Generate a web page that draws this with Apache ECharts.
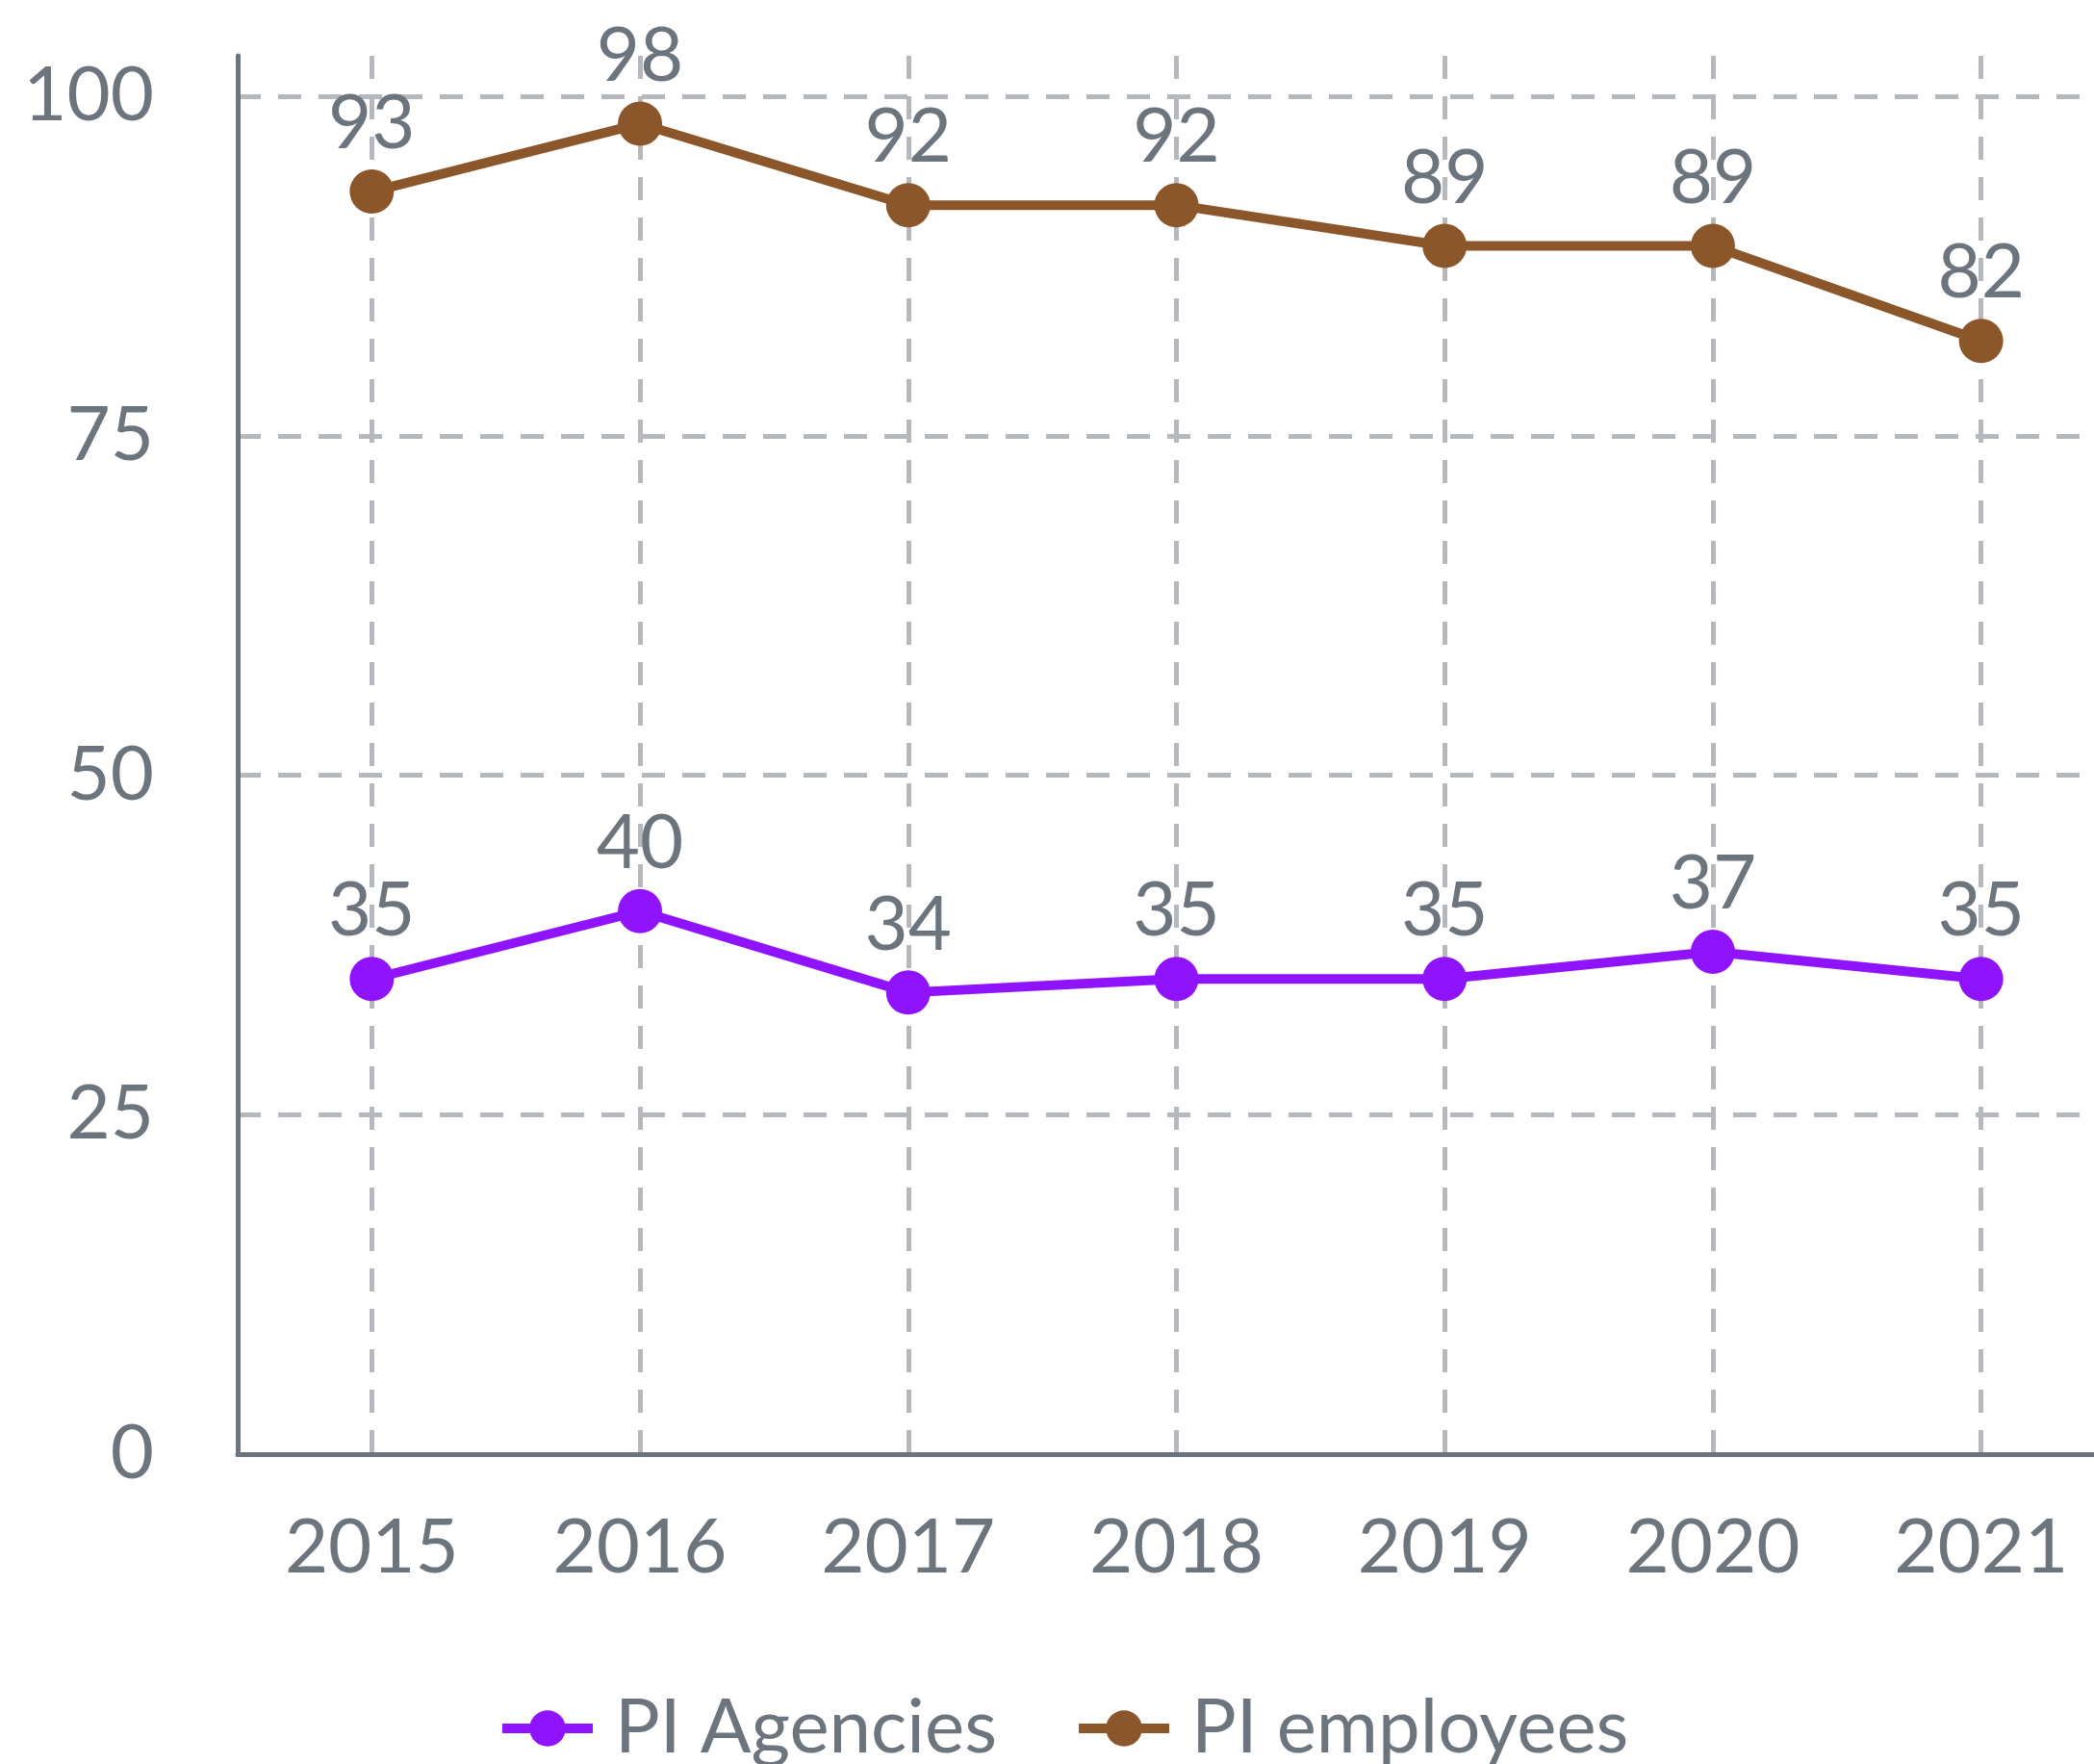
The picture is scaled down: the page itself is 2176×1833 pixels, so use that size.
<!DOCTYPE html>
<html><head><meta charset="utf-8">
<script src="https://cdn.jsdelivr.net/npm/echarts@6/dist/echarts.min.js"></script>
<style>html,body{margin:0;padding:0;background:#fff}#c{width:2176px;height:1833px}</style>
</head><body><div id="c"></div>
<script>
const years = ['2015','2016','2017','2018','2019','2020','2021'];
const agencies = [35, 40, 34, 35, 35, 37, 35];
const employees = [93, 98, 92, 92, 89, 89, 82];
const yTicks = [0, 25, 50, 75, 100];

const gray = '#6c757d';
const gridGray = '#b5b9bd';
const font = 'Lato';
const chart = echarts.init(document.getElementById('c'));
const lbl = {show:true, position:'top', distance:8, fontSize:78, color:gray, fontFamily:font};
chart.setOption({
  animation:false,
  textStyle:{fontFamily:font},
  grid:{left:247, width:1951, top:58, bottom:322, containLabel:false, outerBoundsMode:'none'},
  legend:{
    left:512, top:1752, itemWidth:94, itemHeight:47, itemGap:80,
    lineStyle:{width:10},
    textStyle:{fontSize:78, color:gray, fontFamily:font, padding:[0,0,0,18]},
    data:['PI Agencies','PI employees']
  },
  xAxis:{
    type:'category', data:years, boundaryGap:true,
    axisTick:{show:false},
    axisLine:{show:true, lineStyle:{color:gray, width:5}},
    axisLabel:{fontSize:78, color:gray, fontFamily:font, margin:59, interval:0},
    splitLine:{show:true, alignWithLabel:true, interval:0, lineStyle:{color:gridGray, width:5, type:[24,18]}}
  },
  yAxis:{
    type:'value', min:0, max:103, interval:25,
    axisTick:{show:false},
    axisLine:{show:true, lineStyle:{color:gray, width:5}},
    axisLabel:{fontSize:78, color:gray, fontFamily:font, margin:87, showMaxLabel:false,
      formatter:v => yTicks.indexOf(v) >= 0 ? String(v) : ''},
    splitLine:{show:true, showMaxLine:false, showMinLine:false, lineStyle:{color:gridGray, width:5, type:[24,18]}}
  },
  series:[
    {name:'PI Agencies', type:'line', data:agencies, symbol:'circle', symbolSize:46,
     itemStyle:{color:'#9013fe'}, lineStyle:{color:'#9013fe', width:10}, label:lbl},
    {name:'PI employees', type:'line', data:employees, symbol:'circle', symbolSize:46,
     itemStyle:{color:'#8b572a'}, lineStyle:{color:'#8b572a', width:10}, label:lbl}
  ]
});
</script></body></html>
